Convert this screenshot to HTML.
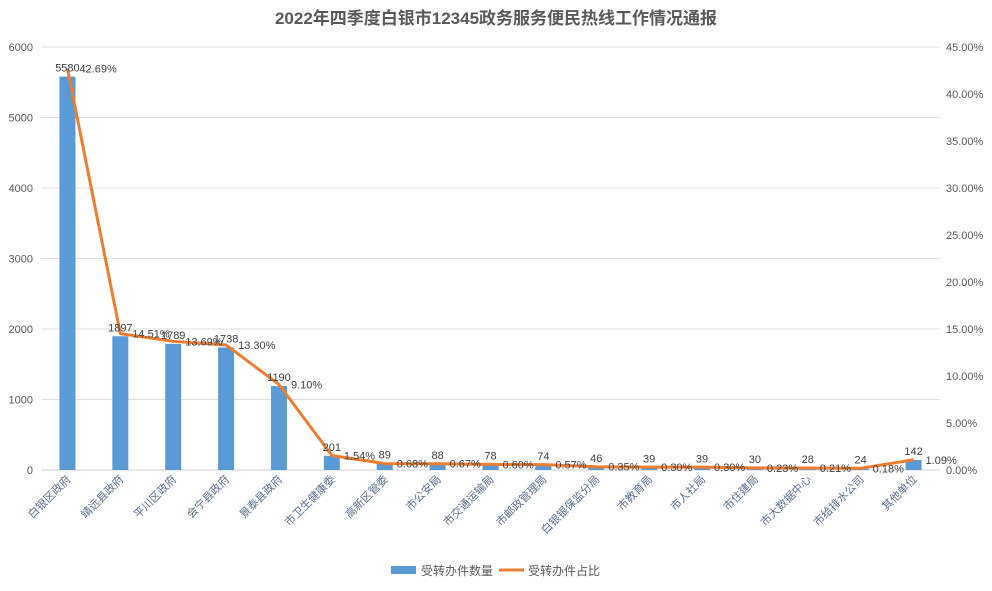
<!DOCTYPE html>
<html><head><meta charset="utf-8"><style>
body{margin:0;background:#fff;}
svg text{font-family:"Liberation Sans","Noto Sans CJK SC",sans-serif;}
</style></head><body>
<svg id="c" width="992" height="586" xmlns="http://www.w3.org/2000/svg">
<text x="496" y="24" text-anchor="middle" font-size="17" font-weight="bold" fill="#595959">2022年四季度白银市12345政务服务便民热线工作情况通报</text>
<g id="grid"></g><g id="bars"></g><g id="line"></g><g id="labels"></g>
<g>
<rect x="391" y="566" width="25" height="8" fill="#5b9bd5"/>
<text x="421" y="575" font-size="12" fill="#595959">受转办件数量</text>
<line x1="499" y1="570" x2="524" y2="570" stroke="#ed7d31" stroke-width="3"/>
<text x="528" y="575" font-size="12" fill="#595959">受转办件占比</text>
</g>
</svg>
<script>
const categories=["白银区政府","靖远县政府","平川区政府","会宁县政府","景泰县政府","市卫生健康委","高新区管委","市公安局","市交通运输局","市邮政管理局","白银银保监分局","市教育局","市人社局","市住建局","市大数据中心","市给排水公司","其他单位"];
const counts=[5580,1897,1789,1738,1190,201,89,88,78,74,46,39,39,30,28,24,142];
const pcts=[42.69,14.51,13.69,13.30,9.10,1.54,0.68,0.67,0.60,0.57,0.35,0.30,0.30,0.23,0.21,0.18,1.09];
const leftTicks=[0,1000,2000,3000,4000,5000,6000];
const rightTicks=[0,5,10,15,20,25,30,35,40,45];
const NS="http://www.w3.org/2000/svg";
const X0=41,X1=940,Y0=470,Y1=47;
const band=(X1-X0)/categories.length;
const xc=i=>X0+band*(i+0.5);
const yL=v=>Y0-(v/6000)*(Y0-Y1);
const yR=v=>Y0-(v/45)*(Y0-Y1);
function mk(tag,attrs,parent,txt){const e=document.createElementNS(NS,tag);for(const k in attrs)e.setAttribute(k,attrs[k]);if(txt!==undefined)e.textContent=txt;document.getElementById(parent).appendChild(e);return e;}
leftTicks.forEach(t=>{
 const l=mk('line',{x1:X0,x2:X1,y1:yL(t),y2:yL(t),stroke:t===0?'#d0d0d0':'#e0e0e0','stroke-width':1},'grid');
 
 
 const tx=mk('text',{x:33,y:yL(t)+4,'text-anchor':'end','font-size':11,fill:'#595959'},'grid',String(t));
 
 
});
rightTicks.forEach(t=>{
 const tx=mk('text',{x:946,y:yR(t)+4,'font-size':11,fill:'#595959'},'grid',t.toFixed(2)+'%');
 
 
});
const pts=[];
categories.forEach((c,i)=>{
 const x=xc(i),y=yL(counts[i]);
 const r=mk('rect',{x:x-8,y:y,width:16,height:Y0-y,fill:'#5b9bd5'},'bars');
 
 
 const vl=mk('text',{x:x,y:y-5,'text-anchor':'middle','font-size':11,fill:'#404040'},'labels',String(counts[i]));
 
 
 const py=yR(pcts[i]);pts.push(x+','+py);
 const pl=mk('text',{x:x+12,y:py+4,'font-size':11,fill:'#404040'},'labels',pcts[i].toFixed(2)+'%');
 
 
 const cl=mk('text',{x:x+4,y:480,'text-anchor':'end','font-size':11,fill:'#5b6f90',transform:`rotate(-45 ${x+4} 480)`},'labels',c);
 
 
});
const pl=mk('polyline',{points:pts.join(' '),fill:'none',stroke:'#ed7d31','stroke-width':3,'stroke-linejoin':'round'},'line');


</script>
</body></html>
